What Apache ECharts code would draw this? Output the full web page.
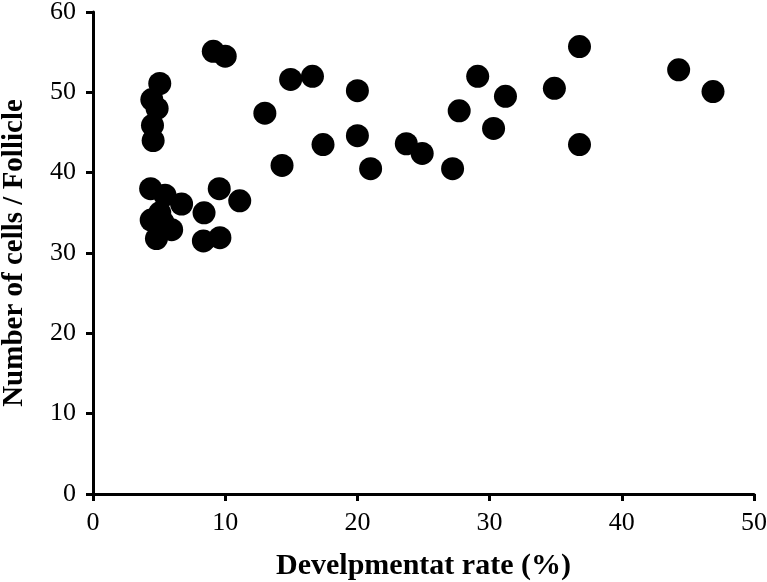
<!DOCTYPE html>
<html>
<head>
<meta charset="utf-8">
<script src="https://cdn.jsdelivr.net/npm/echarts@6/dist/echarts.min.js"></script>
<style>
html,body{margin:0;padding:0;background:#fff;}
#c{width:767px;height:582px;}
</style>
</head>
<body>
<div id="c"></div>
<script>
const xValues = [9.1, 10.0, 5.05, 4.45, 4.85, 4.5, 4.55, 13.0, 14.95, 16.6, 20.0, 17.4, 20.0, 14.3, 21.0,
  4.36, 5.45, 6.7, 9.55, 11.1, 8.4, 4.4, 5.05, 5.3, 5.95, 4.8, 8.35, 9.6,
  23.7, 24.9, 27.2, 27.7, 29.1, 31.2, 30.3, 34.9, 36.8, 36.8, 44.3, 46.9];
const yValues = [55.1, 54.5, 51.1, 49.1, 48.0, 45.9, 44.0, 47.4, 51.6, 52.0, 50.2, 43.5, 44.6, 40.9, 40.5,
  38.0, 37.2, 36.1, 38.0, 36.5, 35.0, 34.1, 35.0, 33.8, 32.9, 31.8, 31.5, 31.9,
  43.6, 42.4, 40.5, 47.7, 52.0, 49.5, 45.5, 50.5, 55.7, 43.5, 52.8, 50.1];
const xTicks = [0, 10, 20, 30, 40, 50];
const yTicks = [0, 10, 20, 30, 40, 50, 60];
const xTitle = 'Develpmentat rate (%)';
const yTitle = 'Number of cells / Follicle';

const points = xValues.map((x, i) => [x, yValues[i]]);
const font = 'Liberation Serif, Times New Roman, serif';
const chart = echarts.init(document.getElementById('c'));
chart.setOption({
  animation: false,
  backgroundColor: '#fff',
  grid: { left: 93, right: 13, top: 12, bottom: 88, containLabel: false, outerBoundsMode: 'none' },
  xAxis: {
    type: 'value', min: xTicks[0], max: xTicks[xTicks.length - 1], interval: 10,
    name: xTitle, nameLocation: 'middle', nameGap: 57,
    nameTextStyle: { fontFamily: font, fontWeight: 'bold', fontSize: 30, color: '#000' },
    axisLine: { show: true, lineStyle: { color: '#000', width: 3 } },
    axisTick: { show: true, length: 7, lineStyle: { color: '#000', width: 3 } },
    axisLabel: { fontFamily: font, fontSize: 26, color: '#000', margin: 16 },
    splitLine: { show: false }
  },
  yAxis: {
    type: 'value', min: yTicks[0], max: yTicks[yTicks.length - 1], interval: 10,
    name: yTitle, nameLocation: 'middle', nameGap: 64,
    nameTextStyle: { fontFamily: font, fontWeight: 'bold', fontSize: 29, color: '#000' },
    axisLine: { show: true, lineStyle: { color: '#000', width: 3 } },
    axisTick: { show: true, length: 7, lineStyle: { color: '#000', width: 3 } },
    axisLabel: { fontFamily: font, fontSize: 26, color: '#000', margin: 17 },
    splitLine: { show: false }
  },
  series: [{
    type: 'scatter',
    data: points,
    symbol: 'circle',
    symbolSize: 23,
    itemStyle: { color: '#000', opacity: 1 }
  }]
});
</script>
</body>
</html>
